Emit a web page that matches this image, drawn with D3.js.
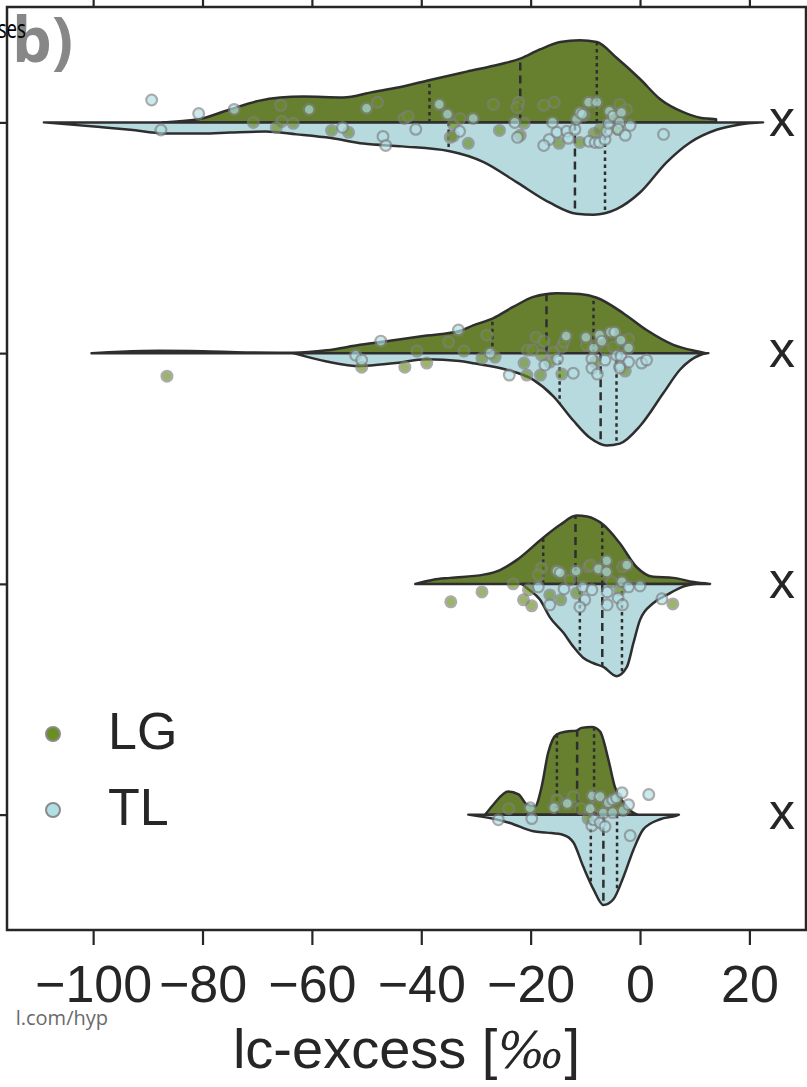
<!DOCTYPE html>
<html>
<head>
<meta charset="utf-8">
<script src="https://cdn.jsdelivr.net/npm/d3@7"></script>
<style>
  html, body { margin: 0; padding: 0; background: #fff; }
  svg { display: block; }
</style>
</head>
<body>
<svg id="chart" width="807" height="1087"></svg>
<script>
// ---- data -------------------------------------------------------------
const xTicks = [-100, -80, -60, -40, -20, 0, 20];
const rowLabels = ["x", "x", "x", "x"];
const groups = ["LG", "TL"];
const groupColors = { LG: "#6b8e23", TL: "#b0e0e6" };      // point / legend colours
const violinColors = { LG: "#66802f", TL: "#b7dadf" };     // desaturated violin fills

// violin half outlines: [lc-excess, relative half-width]
const lgDensity = [
  [[-87.3,0],[-81,0.03],[-75,0.14],[-70,0.23],[-65.8,0.27],[-61.6,0.28],[-54.3,0.27],[-48.8,0.33],[-44,0.38],[-38.4,0.46],[-31.7,0.55],[-25.6,0.63],[-21.9,0.69],[-18.3,0.79],[-14.6,0.87],[-11,0.89],[-7.9,0.87],[-4.3,0.70],[0,0.47],[3.7,0.25],[7.9,0.11],[11,0.05],[13.9,0.035]],
  [[-100.3,0],[-95,0.015],[-88,0.025],[-80,0.02],[-72,0.008],[-63.4,0.005],[-57.3,0.03],[-51.2,0.09],[-45.1,0.14],[-39,0.19],[-33,0.24],[-30.5,0.30],[-26.8,0.38],[-23.2,0.50],[-19.5,0.61],[-15.2,0.65],[-11,0.64],[-7.9,0.60],[-3,0.43],[1.2,0.25],[6.1,0.09],[10.4,0.02],[12,0]],
  [[-41.1,0],[-37.8,0.045],[-34.7,0.065],[-28.6,0.10],[-25.6,0.15],[-22.5,0.26],[-17.7,0.50],[-14.6,0.64],[-11.6,0.74],[-9.7,0.73],[-6.7,0.64],[-3.7,0.44],[-0.6,0.18],[2.4,0.076],[6.1,0.065],[9.8,0.02],[12.8,0]],
  [[-28.3,0],[-26.8,0.11],[-24.1,0.25],[-22.2,0.22],[-20.7,0.11],[-19.2,0.09],[-18,0.30],[-16.8,0.67],[-15.2,0.87],[-13.4,0.90],[-11.6,0.91],[-10.7,0.94],[-8.8,0.95],[-7.3,0.90],[-5.8,0.60],[-4.6,0.30],[-3,0.13],[-1.2,0.02],[-0.5,0]]
];
const tlDensity = [
  [[-109,0],[-98.7,0.05],[-93.2,0.08],[-87,0.12],[-80,0.12],[-75,0.11],[-68.5,0.10],[-62.8,0.13],[-56.5,0.17],[-50.6,0.23],[-43.5,0.26],[-35,0.31],[-28.6,0.43],[-22.5,0.65],[-16.5,0.87],[-11.6,0.99],[-8.5,1.0],[-4.3,0.94],[0,0.76],[4.9,0.43],[9.1,0.22],[14,0.08],[18,0.025],[22.5,0]],
  [[-63.4,0],[-57.3,0.09],[-51.2,0.14],[-45.1,0.11],[-39,0.065],[-33,0.085],[-30.5,0.11],[-24.4,0.18],[-19.5,0.29],[-15.8,0.47],[-12.2,0.73],[-9.1,0.92],[-6.1,1.0],[-3.7,0.98],[0,0.79],[4.3,0.43],[7.3,0.18],[11,0.02],[12.5,0]],
  [[-21.6,0],[-20.7,0.045],[-18.3,0.17],[-16.5,0.36],[-14,0.53],[-12.2,0.68],[-10.4,0.80],[-8.5,0.86],[-6.7,0.90],[-4.3,1.0],[-2.4,0.90],[-1.2,0.64],[0,0.39],[2.4,0.21],[4.9,0.12],[7.9,0.03],[10.4,0]],
  [[-31.4,0],[-26.8,0.045],[-23.8,0.09],[-19.5,0.18],[-17.1,0.195],[-14,0.22],[-12.2,0.30],[-10.4,0.56],[-8.5,0.81],[-6.7,0.98],[-4.9,0.92],[-3,0.67],[-1.2,0.38],[0.6,0.16],[3.7,0.05],[6.7,0.01],[7.1,0]]
];

// quartiles [q1, median, q3]
const lgQuartiles = [[-38.5,-21.9,-7.9],[-27,-17.1,-8.5],[-17.7,-11.8,-6.9],[-15.2,-11.5,-8.4]];
const tlQuartiles = [[-35,-11.9,-6.4],[-14.7,-7.2,-4.3],[-11,-6.9,-3.3],[-9,-6.7,-4.2]];

// individual samples: [lc-excess, strip jitter]
const lgPoints = [
  [[-70.7,0],[-65.7,-0.074],[-65.5,-0.004],[-66.5,0.022],[-63.4,0.004],[-56.4,0.035],[-53.3,0.043],[-48,-0.087],[-43.1,-0.017],[-42.4,-0.026],[-34.1,0.009],[-32.9,-0.017],[-34.7,0.065],[-34.1,0.059],[-31.4,0.091],[-26.8,-0.078],[-25.7,0.035],[-22.2,-0.087],[-22.5,-0.065],[-21.2,0.004],[-21.9,0.056],[-17.6,-0.074],[-15.7,-0.087],[-14.8,0.091],[-11,0.087],[-10.2,-0.03],[-8.4,0.048],[-7.3,0.03],[-3.7,-0.078],[-2.5,-0.056],[-4,0.03]],
  [[-86.5,0.1],[-50.9,0.061],[-43,0.061],[-40.8,-0.009],[-39,0.043],[-35,-0.048],[-32.2,-0.009],[-28,-0.078],[-28.9,0.022],[-26.5,0.017],[-21.2,0.043],[-20.7,0.095],[-20.6,-0.013],[-19.6,-0.013],[-19,-0.069],[-17.6,-0.052],[-18,0.009],[-18.2,0.095],[-16.5,0.039],[-15.8,-0.004],[-14.3,-0.026],[-13.9,-0.048],[-14.3,0.091],[-9.8,-0.035],[-8.2,0.039],[-6.2,-0.013],[-4.9,-0.026],[-2.1,-0.061],[-2.7,0.078]],
  [[-34.6,0.078],[-28.9,0.035],[-23.2,0],[-21.3,0.069],[-19.8,0.095],[-20.4,0.026],[-18,-0.069],[-18.6,-0.039],[-16.5,0.048],[-14.5,0.069],[-12.8,-0.017],[-11.6,0.04],[-9.4,-0.074],[-9.1,-0.082],[-5.2,-0.009],[-3.2,-0.074],[-3.7,0.026],[6,0.087]],
  [[-24,-0.026],[-15.2,-0.065],[-12.2,-0.078],[-10.8,-0.026],[-9.5,0.017],[-7.8,-0.04]]
];
const tlPoints = [
  [[-89.3,-0.097],[-87.6,0.033],[-80.7,-0.038],[-74.2,-0.056],[-60.5,-0.056],[-54.4,0.022],[-50,-0.061],[-47,0.061],[-46.5,0.1],[-41,0.03],[-36.7,-0.078],[-35.2,-0.035],[-33,0.039],[-30.5,-0.017],[-22.9,0],[-22.4,0.065],[-16,0],[-16.6,0.074],[-17.6,0.1],[-15.2,0.043],[-13.4,0.039],[-13.1,0.069],[-11.9,0.03],[-11.6,-0.013],[-11,-0.043],[-10.5,-0.035],[-9.4,-0.087],[-7.9,-0.087],[-9.3,0.082],[-8.2,0.087],[-7.4,0.087],[-6.4,0.074],[-6.1,0.039],[-5.8,0.004],[-5.6,-0.048],[-4.9,-0.027],[-3.4,-0.043],[-3.7,0],[-4,0.03],[-1.8,0.013],[-2.7,0.056],[4.3,0.052]],
  [[-52,0.009],[-50.9,0.03],[-47.4,-0.052],[-33.2,-0.1],[-27.4,0],[-23.9,0.095],[-17.4,0.052],[-15.1,0.026],[-13.5,-0.074],[-12.2,0.087],[-9.9,-0.069],[-8.5,-0.022],[-8.8,0.026],[-8.8,0.065],[-7.8,0.091],[-7.4,-0.078],[-7,-0.052],[-6.4,0.03],[-5.4,-0.091],[-4.6,-0.091],[-4.3,0.009],[-3.5,0.013],[-3.5,-0.056],[-2.1,-0.022],[-2.1,0.039],[-3.7,0.056],[-3.7,0.065],[0.3,0.043],[1.2,0.03]],
  [[-18.6,0.013],[-16.5,0.091],[-15.2,-0.056],[-14.6,-0.048],[-13.9,0.022],[-11.7,-0.056],[-10.5,0.013],[-10.1,0.069],[-11,0.1],[-8.8,0.026],[-7.6,-0.065],[-6.1,-0.1],[-6.1,-0.052],[-6,0.035],[-6,0.091],[-4,0.061],[-3.2,0.091],[-3.3,-0.009],[-2.4,-0.082],[-2.1,0.013],[0,0.009],[4,0.065]],
  [[-25.9,0.022],[-20.1,-0.03],[-19.8,0.017],[-15.7,-0.03],[-13.3,-0.048],[-9.1,-0.026],[-8.7,-0.082],[-7.3,-0.078],[-8.8,0.048],[-8.5,0.022],[-7.3,0.035],[-6.4,0.052],[-6.7,-0.007],[-5.8,-0.052],[-5,-0.065],[-5,-0.009],[-4.3,-0.072],[-3.3,-0.095],[-3.1,-0.018],[-2.1,-0.043],[-1.8,0.091],[1.6,-0.087]]
];

// ---- layout -----------------------------------------------------------
const svg = d3.select("#chart");
const frame = { left: 7, top: 7, right: 806, bottom: 930 };
const ink = "#262626";
const sans = "'Liberation Sans', Arial, sans-serif";

const x = d3.scaleLinear().domain([-115.75, 30.35]).range([frame.left, frame.right]);
const y = d3.scaleLinear().domain([-0.5, rowLabels.length - 0.5]).range([frame.top, frame.bottom]);
const halfWidth = d3.scaleLinear().domain([0, 1]).range([0, y(0.4) - y(0)]);

const series = {
  LG: { density: lgDensity, quartiles: lgQuartiles, points: lgPoints, side: -1 },
  TL: { density: tlDensity, quartiles: tlQuartiles, points: tlPoints, side: 1 }
};

// interpolated half-width at a value along an outline
function widthAt(outline, v) {
  const xs = outline.map(d => d[0]);
  const i = d3.bisectRight(xs, v);
  if (i <= 0) return outline[0][1];
  if (i >= outline.length) return outline[outline.length - 1][1];
  const a = outline[i - 1], b = outline[i];
  return a[1] + (b[1] - a[1]) * (v - a[0]) / (b[0] - a[0]);
}

// ---- violins ----------------------------------------------------------
const violinLayer = svg.append("g");
rowLabels.forEach((_, row) => {
  const cy = y(row);
  groups.forEach(g => {
    const s = series[g];
    const area = d3.area()
      .x(d => x(d[0]))
      .y0(cy)
      .y1(d => cy + s.side * halfWidth(d[1]))
      .curve(d3.curveMonotoneX);
    violinLayer.append("path")
      .attr("d", area(s.density[row]) + "Z")
      .attr("fill", violinColors[g])
      .attr("stroke", "#2e2e2e")
      .attr("stroke-width", 2.5)
      .attr("stroke-linejoin", "round");

    s.quartiles[row].forEach((q, k) => {
      const w = halfWidth(widthAt(s.density[row], q));
      violinLayer.append("line")
        .attr("x1", x(q)).attr("x2", x(q))
        .attr("y1", cy).attr("y2", cy + s.side * w)
        .attr("stroke", "#2e2e2e")
        .attr("stroke-width", 2.5)
        .attr("stroke-dasharray", k === 1 ? "8,5" : "3.5,3.5");
    });
  });
});

// ---- strip points -----------------------------------------------------
const pointLayer = svg.append("g");
rowLabels.forEach((_, row) => {
  groups.forEach(g => {
    pointLayer.selectAll(null)
      .data(series[g].points[row])
      .enter().append("circle")
      .attr("cx", d => x(d[0]))
      .attr("cy", d => y(row + d[1]))
      .attr("r", 5.4)
      .attr("fill", groupColors[g])
      .attr("stroke", "#808080")
      .attr("stroke-width", 2.2)
      .attr("opacity", 0.66);
  });
});

// ---- axes -------------------------------------------------------------
const fmt = d => d < 0 ? "\u2212" + Math.abs(d) : String(d);

const bottomAxis = svg.append("g")
  .attr("transform", `translate(0,${frame.bottom})`)
  .call(d3.axisBottom(x).tickValues(xTicks).tickSize(15).tickPadding(20).tickFormat(fmt));
bottomAxis.select(".domain").remove();
bottomAxis.selectAll(".tick line").attr("stroke", ink).attr("stroke-width", 2.2);
bottomAxis.selectAll(".tick text")
  .attr("fill", ink).style("font-family", sans).style("font-size", "52px");

const topAxis = svg.append("g")
  .attr("transform", `translate(0,${frame.top})`)
  .call(d3.axisTop(x).tickValues(xTicks).tickSize(15).tickFormat(""));
topAxis.select(".domain").remove();
topAxis.selectAll(".tick line").attr("stroke", ink).attr("stroke-width", 2.2);

const leftAxis = svg.append("g")
  .attr("transform", `translate(${frame.left},0)`)
  .call(d3.axisLeft(y).tickValues(d3.range(rowLabels.length)).tickSize(15).tickFormat(""));
leftAxis.select(".domain").remove();
leftAxis.selectAll(".tick line").attr("stroke", ink).attr("stroke-width", 2.2);

// frame
svg.append("rect")
  .attr("x", frame.left).attr("y", frame.top)
  .attr("width", frame.right - frame.left)
  .attr("height", frame.bottom - frame.top)
  .attr("fill", "none")
  .attr("stroke", ink)
  .attr("stroke-width", 2.5);

// row labels on the right
svg.append("g").selectAll("text")
  .data(rowLabels)
  .enter().append("text")
  .attr("x", 769)
  .attr("y", (d, i) => y(i) + 14)
  .attr("fill", ink)
  .style("font-family", sans)
  .style("font-size", "52px")
  .text(d => d);

// x-axis title
const title = svg.append("text")
  .attr("x", (frame.left + frame.right) / 2)
  .attr("y", 1068)
  .attr("text-anchor", "middle")
  .attr("fill", ink)
  .style("font-family", sans)
  .style("font-size", "56px");
title.append("tspan").text("lc-excess [");
title.append("tspan").style("font-family", "'DejaVu Serif', serif").style("font-style", "italic")
  .style("font-size", "50px").text("\u2030");
title.append("tspan").text("]");

// ---- legend -----------------------------------------------------------
const legend = svg.append("g");
groups.forEach((g, i) => {
  const ly = 734 + i * 76;
  legend.append("circle")
    .attr("cx", 53).attr("cy", ly).attr("r", 7)
    .attr("fill", groupColors[g])
    .attr("stroke", "#8a8a8a").attr("stroke-width", 2);
  legend.append("text")
    .attr("x", 108).attr("y", ly + 15)
    .attr("fill", ink)
    .style("font-family", sans)
    .style("font-size", "52px")
    .text(g);
});

// ---- panel tag and neighbouring captions ------------------------------
svg.append("text")
  .attr("x", 12).attr("y", 62)
  .attr("fill", "#878787")
  .style("font-family", "'Open Sans', sans-serif")
  .style("font-weight", "bold")
  .style("font-size", "63px")
  .text("b)");

svg.append("text")
  .attr("transform", "translate(26,38) scale(0.72,1)")
  .attr("text-anchor", "end")
  .attr("fill", "#000")
  .style("font-family", "'Open Sans', sans-serif")
  .style("font-size", "26px")
  .text("ses");

svg.append("text")
  .attr("x", 108).attr("y", 1025)
  .attr("text-anchor", "end")
  .attr("fill", "#6a6a6a")
  .style("font-family", "'Open Sans', sans-serif")
  .style("font-size", "20px")
  .text("l.com/hyp");
</script>
</body>
</html>
